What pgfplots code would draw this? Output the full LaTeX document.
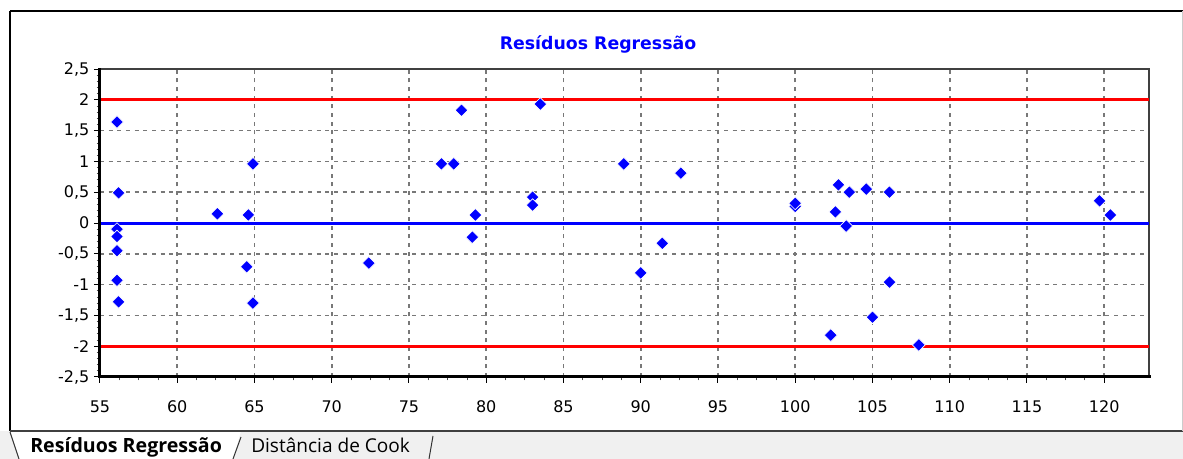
\documentclass[border=0pt]{standalone}
\usepackage{fontspec}
\setmainfont{DejaVu Sans}
\newfontfamily\tabfont{Open Sans}
\usepackage{pgfplots}
\pgfplotsset{compat=1.18}
\definecolor{rblue}{RGB}{0,0,255}
\definecolor{rred}{RGB}{255,0,0}
\definecolor{gridgray}{RGB}{120,120,120}
\definecolor{tabgray}{RGB}{240,240,240}
\pgfplotstableread{
x y
56.1 1.64
56.2 0.49
56.1 -0.10
56.1 -0.22
56.1 -0.45
56.1 -0.93
56.2 -1.28
62.6 0.15
64.6 0.13
64.9 0.96
64.5 -0.71
64.9 -1.30
72.4 -0.65
77.1 0.96
77.9 0.96
78.4 1.83
79.3 0.13
79.1 -0.23
83.0 0.42
83.0 0.29
83.5 1.93
88.9 0.96
90.0 -0.81
91.4 -0.33
92.6 0.81
100.0 0.27
100.0 0.32
102.3 -1.82
102.6 0.18
102.8 0.62
103.3 -0.05
103.5 0.50
104.6 0.55
105.0 -1.53
106.1 0.50
106.1 -0.96
108.0 -1.98
119.7 0.36
120.4 0.13
}\resid
\begin{document}
\begin{tikzpicture}
\begin{scope}[x=0.75pt,y=-0.75pt]
\useasboundingbox (0,0) rectangle (1183,459);
\fill[white] (0,0) rectangle (1183,459);
\fill[tabgray] (0,431) rectangle (1183,459);
\fill[white] (10,431) -- (19,459) -- (233,459) -- (241,431) -- cycle;
\draw[black!80, line width=0.75pt] (10,432) -- (19,459);
\draw[black!80, line width=0.75pt] (241,437) -- (233,459);
\draw[black!80, line width=0.75pt] (433,436) -- (429,459);
\draw[black, line width=1.3pt] (10,11) -- (1183,11);
\draw[black, line width=1.3pt] (10,11) -- (10,431);
\draw[black!75, line width=1.5pt] (10,431) -- (1183,431);
\draw[black!20, line width=0.75pt] (1182,11) -- (1182,431);
\node[text=rblue, font=\bfseries\fontsize{13}{15}\selectfont] at (598,44) {Resíduos Regressão};
\node[anchor=base west, inner sep=0pt, font=\tabfont\bfseries\fontsize{14.7}{16}\selectfont] at (30,453) {Resíduos Regressão};
\node[anchor=base west, inner sep=0pt, font=\tabfont\fontsize{14.3}{16}\selectfont] at (251,453) {Distância de Cook};
\end{scope}
\begin{axis}[
  at={(75pt,-282.75pt)}, anchor=south west,
  scale only axis, width=786.75pt, height=231pt,
  xmin=55, xmax=122.9, ymin=-2.5, ymax=2.5,
  xtick={55,60,...,120},
  xticklabels={55,60,65,70,75,80,85,90,95,100,105,110,115,120},
  ytick={-2.5,-2,...,2.5},
  yticklabels={{-2,5},-2,{-1,5},-1,{-0,5},0,{0,5},1,{1,5},2,{2,5}},
  minor x tick num=3, minor y tick num=4,
  tick pos=left, tick align=outside,
  major tick length=4.5pt, minor tick length=2.5pt,
  tick style={black, line width=0.75pt},
  minor tick style={black!70, line width=0.6pt},
  grid=major,
  major grid style={gridgray, dash pattern=on 3pt off 3.5pt, line width=1.2pt},
  axis line style={black!75, line width=1.2pt},
  ticklabel style={font=\fontsize{12}{14}\selectfont, text=black},
  xticklabel style={yshift=-10pt},
  clip=false,
]
\addplot[rred, line width=2.25pt] coordinates {(55,2) (122.9,2)};
\addplot[rred, line width=2.25pt] coordinates {(55,-2) (122.9,-2)};
\addplot[rblue, line width=2.25pt] coordinates {(55,0) (122.9,0)};
\addplot[only marks, mark=square*, mark size=3.4pt,
  mark options={rotate=45, fill=rblue, draw=white, line width=0.5pt}] table[x=x,y=y] {\resid};
\draw[black, line width=2.25pt, line cap=rect] (rel axis cs:0,1) -- (rel axis cs:0,0) -- (rel axis cs:1,0);
\end{axis}
\end{tikzpicture}
\end{document}
